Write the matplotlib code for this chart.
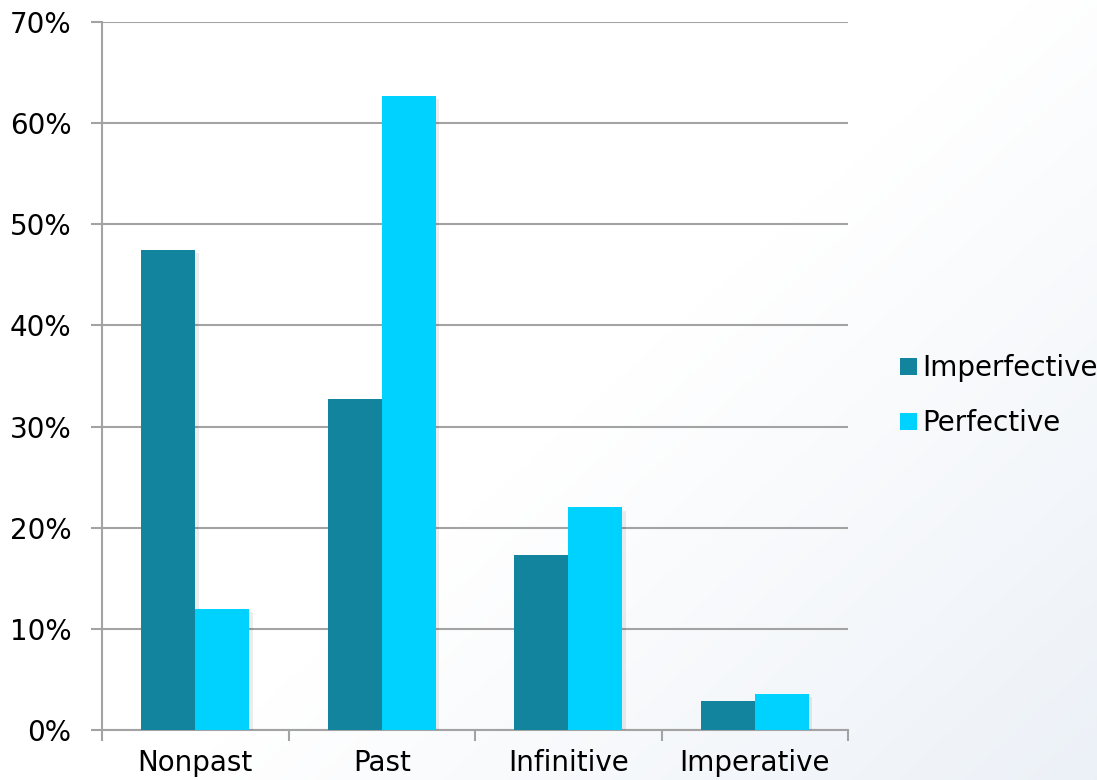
import numpy as np
import matplotlib
matplotlib.use("Agg")
import matplotlib.pyplot as plt
import matplotlib.patheffects as pe

categories = ["Nonpast", "Past", "Infinitive", "Imperative"]
imperfective = [47.5, 32.7, 17.3, 2.9]
perfective = [12.0, 62.7, 22.0, 3.6]
y_ticks = [0, 10, 20, 30, 40, 50, 60, 70]

IMPF_COLOR = "#13849E"
PERF_COLOR = "#00D2FF"
AXIS_GRAY = "#A3A3A3"

plt.rcParams["font.family"] = ["DejaVu Sans"]

fig = plt.figure(figsize=(10.97, 7.80), dpi=100)

# soft diagonal background wash, white at top-left fading to pale blue-gray
bg = fig.add_axes([0, 0, 1, 1], zorder=-10)
xx, yy = np.meshgrid(np.linspace(0, 1, 400), np.linspace(0, 1, 300))
t = np.clip((xx * 0.9 + (1 - yy) * 0.7 - 0.85) / 0.75, 0, 1)
white = np.array([1.0, 1.0, 1.0])
tint = np.array([0.925, 0.945, 0.970])
img = white[None, None, :] * (1 - t[..., None]) + tint[None, None, :] * t[..., None]
bg.imshow(img, extent=[0, 1, 0, 1], aspect="auto", origin="lower")
bg.axis("off")

ax = fig.add_axes([102 / 1097, 50 / 780, 746 / 1097, 708 / 780])
ax.set_facecolor("none")

x = np.arange(len(categories))
width = 0.29
shadow = [pe.SimplePatchShadow(offset=(2.5, -2.5), shadow_rgbFace="#000000", alpha=0.07), pe.Normal()]
b1 = ax.bar(x - width / 2, imperfective, width, color=IMPF_COLOR, label="Imperfective", zorder=3)
b2 = ax.bar(x + width / 2, perfective, width, color=PERF_COLOR, label="Perfective", zorder=3)
for bar in list(b1) + list(b2):
    bar.set_path_effects(shadow)

ax.set_xlim(-0.5, len(categories) - 0.5)
ax.set_ylim(0, 70)
ax.set_yticks(y_ticks)
ax.set_yticklabels([f"{v}%" for v in y_ticks])
ax.yaxis.grid(True, color=AXIS_GRAY, linewidth=1.5, zorder=0)
ax.set_axisbelow(True)

# category labels sit between the boundary tick marks
ax.set_xticks(np.arange(len(categories) + 1) - 0.5)
ax.set_xticklabels([])
ax.set_xticks(x, minor=True)
ax.set_xticklabels(categories, minor=True)
ax.tick_params(axis="x", which="major", length=8, width=1.5, color=AXIS_GRAY)
ax.tick_params(axis="x", which="minor", length=0, pad=14, labelsize=20)
ax.tick_params(axis="y", length=8, width=1.5, color=AXIS_GRAY, pad=14, labelsize=20)

for side in ["top", "right"]:
    ax.spines[side].set_visible(False)
for side in ["left", "bottom"]:
    ax.spines[side].set_color(AXIS_GRAY)
    ax.spines[side].set_linewidth(1.5)

leg = ax.legend(
    loc="center left",
    bbox_to_anchor=(1.055, 0.472),
    frameon=False,
    fontsize=20,
    handlelength=0.6,
    handleheight=0.6,
    handletextpad=0.2,
    labelspacing=0.98,
    borderaxespad=0,
)
for handle in leg.legend_handles:
    handle.set_path_effects([])

fig.savefig("out.png", dpi=100)
